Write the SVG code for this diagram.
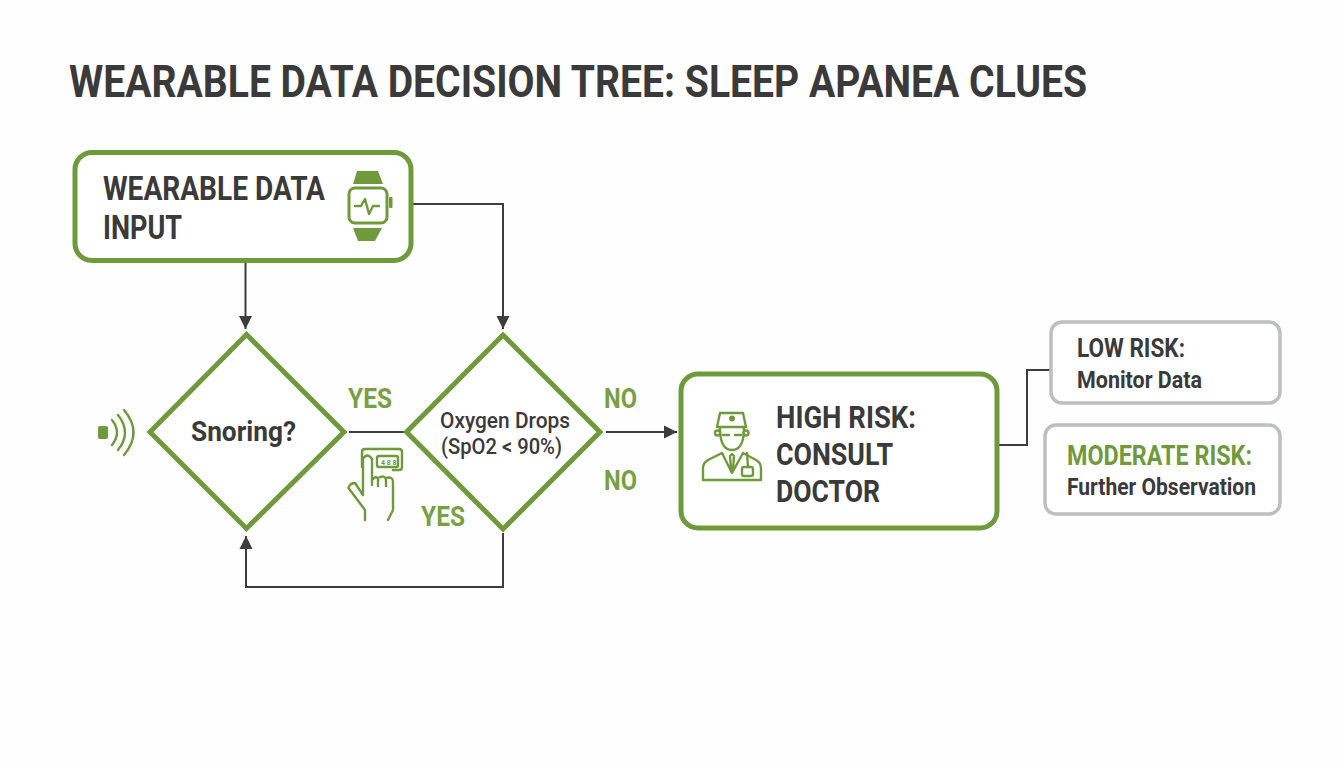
<svg xmlns="http://www.w3.org/2000/svg" width="1344" height="768" viewBox="0 0 1344 768">
<style>
text{font-family:Roboto,"Liberation Sans",sans-serif;fill:#3a3a3a}
.c{fill:none;stroke:#3d3d3d;stroke-width:2}
.g{fill:#fff;stroke:#6f9a3c;stroke-width:5}
.s{fill:#fff;stroke:#bdbfbd;stroke-width:3.5}
.i{fill:none;stroke:#6f9a3c;stroke-width:2.4;stroke-linecap:round;stroke-linejoin:round}
.f{fill:#6f9a3c}
.l{fill:#7a9f45;font-weight:700;font-size:27px}
.b{font-weight:700}
</style>
<defs><marker id="a" markerUnits="userSpaceOnUse" markerWidth="14" markerHeight="14" refX="13" refY="7" orient="auto"><path d="M0 0.5L13 7L0 13.5z" fill="#3d3d3d"/></marker></defs>
<rect width="1344" height="768" fill="#fdfefd"/>
<text id="title" x="69" y="97" class="b" font-size="44" textLength="1018" lengthAdjust="spacingAndGlyphs">WEARABLE DATA DECISION TREE: SLEEP APANEA CLUES</text>
<g id="connectors">
<path class="c" d="M245.500 262V329" marker-end="url(#a)"/>
<path class="c" d="M412 204H503V329" marker-end="url(#a)"/>
<path class="c" d="M349 432H404"/>
<path class="c" d="M606 432H677" marker-end="url(#a)"/>
<path class="c" d="M503 533V587H246V536" marker-end="url(#a)"/>
<path class="c" d="M999 445H1027V370H1050"/>
</g>
<g id="input"><rect class="g" x="75" y="152.500" width="336" height="108" rx="17"/>
<text x="103" y="200" class="b" font-size="33" textLength="222" lengthAdjust="spacingAndGlyphs">WEARABLE DATA</text>
<text x="103" y="239" class="b" font-size="33" textLength="79" lengthAdjust="spacingAndGlyphs">INPUT</text>
<path class="f" d="M357 171H378L383 184H353zM353 228H382L375 241H358z"/>
<rect x="349" y="188" width="38" height="35" rx="6" fill="#fff" stroke="#6f9a3c" stroke-width="3"/>
<rect class="f" x="389" y="197" width="3.500" height="11" rx="1"/>
<path class="i" d="M355 206H361L365 199L369 214L373 206H379" stroke-width="2"/></g>
<g id="snoring"><path class="g" d="M246.500 334.500L344 432L246.500 528.500L150 432z"/>
<text x="191" y="441" class="b" font-size="27" textLength="105" lengthAdjust="spacingAndGlyphs">Snoring?</text>
<rect class="f" x="98" y="426" width="10" height="13" rx="2"/>
<path class="i" d="M112 420Q122 432.500 112 445M118 415Q132 432.500 118 450M124 410Q143 432.500 124 455" stroke-width="2.600"/></g>
<g id="oxygen"><path class="g" d="M503 335L600 432L503 529L406.500 432z"/>
<text x="440" y="428" font-size="22.500" font-weight="500" textLength="130" lengthAdjust="spacingAndGlyphs">Oxygen Drops</text>
<text x="441" y="454" font-size="22.500" font-weight="500" textLength="121" lengthAdjust="spacingAndGlyphs">(SpO2 &lt; 90%)</text></g>
<g id="finger-icon"><path class="i" d="M362 467V452Q362 449 365 449H399Q402 449 402 452V467Q402 470 399 470H393"/>
<rect x="377" y="456" width="21" height="11" rx="2" class="i"/>
<text x="381" y="464.500" font-size="7" class="b" style="fill:#6f9a3c">4 8 8</text>
<path class="i" d="M365 520V510L348.500 488Q350 483 355 483L363 495V459Q367 452 372 459V485M372 480Q376 475 378 479V486M378 478Q386 474 386 481V486M386 478Q393 476 393 482V510L388 520"/></g>
<g id="high"><rect class="g" x="681" y="374" width="316" height="154" rx="17"/>
<text x="776" y="428" class="b" font-size="31" textLength="140" lengthAdjust="spacingAndGlyphs">HIGH RISK:</text>
<text x="776" y="465" class="b" font-size="31" textLength="117" lengthAdjust="spacingAndGlyphs">CONSULT</text>
<text x="776" y="502" class="b" font-size="31" textLength="104" lengthAdjust="spacingAndGlyphs">DOCTOR</text>
<path class="i" d="M720 413H743L746 427H717z"/>
<circle class="f" cx="732" cy="418.500" r="3"/>
<path class="i" d="M720 428Q720 450 732 450Q744 450 744 428"/>
<circle class="i" cx="717.500" cy="433" r="2.500"/><circle class="i" cx="746" cy="433" r="2.500"/>
<path class="i" d="M723 435H729M735 435H741" stroke-width="4"/>
<path class="i" d="M722 453L708 460Q703 463 703 468V480H761V468Q761 463 756 460L743 453M722 453L732 473L743 453M730 456L732 454L734 456L733 470M730 456L731 468"/>
<rect class="i" x="742" y="467" width="11" height="9" rx="2"/><path class="i" d="M748 467L747 453"/></g>
<g id="low"><rect class="s" x="1051" y="322" width="229" height="81" rx="11"/>
<text x="1077" y="357" class="b" font-size="26" textLength="108" lengthAdjust="spacingAndGlyphs">LOW RISK:</text>
<text x="1077" y="388" class="b" font-size="24" textLength="125" lengthAdjust="spacingAndGlyphs">Monitor Data</text></g>
<g id="moderate"><rect class="s" x="1045" y="425" width="235" height="89" rx="11"/>
<text x="1067" y="465" class="b" font-size="27" textLength="185" lengthAdjust="spacingAndGlyphs" style="fill:#6f9a3c">MODERATE RISK:</text>
<text x="1067" y="495" class="b" font-size="24" textLength="189" lengthAdjust="spacingAndGlyphs">Further Observation</text></g>
<g id="labels">
<text x="348" y="408" class="l" textLength="44" lengthAdjust="spacingAndGlyphs">YES</text>
<text x="604" y="408" class="l" textLength="33" lengthAdjust="spacingAndGlyphs">NO</text>
<text x="604" y="490" class="l" textLength="33" lengthAdjust="spacingAndGlyphs">NO</text>
<text x="421" y="526" class="l" textLength="44" lengthAdjust="spacingAndGlyphs">YES</text>
</g>
</svg>
